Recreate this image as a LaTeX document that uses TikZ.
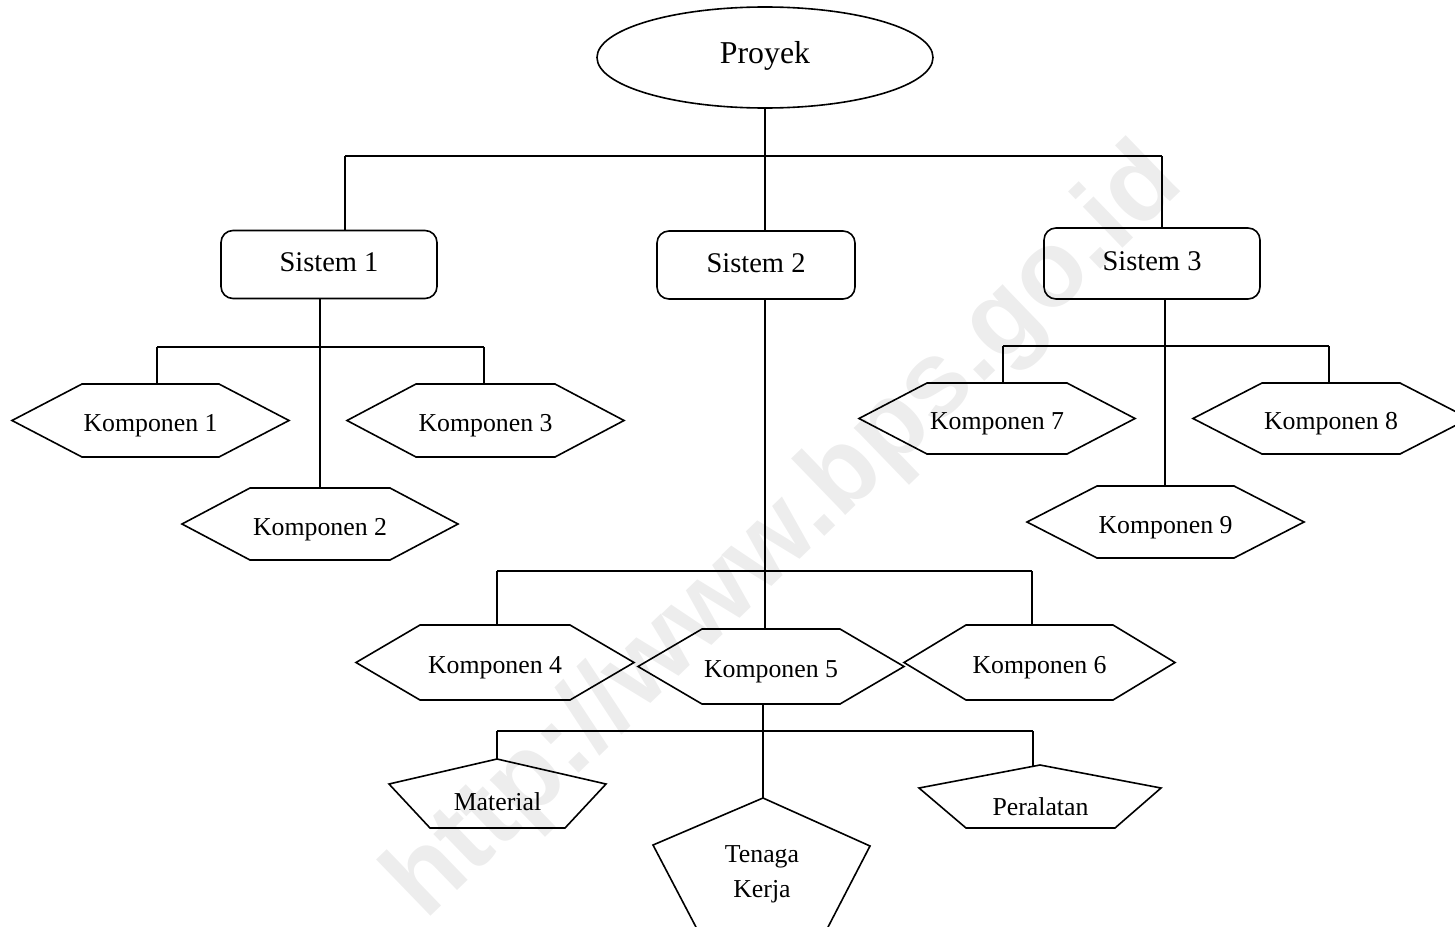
\documentclass[tikz,border=0pt]{standalone}
\usepackage{fontspec}
\setmainfont{Liberation Serif}
\newfontfamily\markfont{Liberation Sans}
\usetikzlibrary{shapes.geometric}
\definecolor{markgray}{RGB}{237,237,237}

\tikzset{
  conn/.style={line width=1.6pt},
  outline/.style={draw, line width=1.6pt, line join=miter},
  sysbox/.style={draw, line width=1.6pt, rounded corners=12pt, inner sep=0pt,
    text height=14pt, text depth=0pt, font=\fontsize{28.5}{34}\selectfont},
  lbl/.style={inner sep=0pt, anchor=base, font=\fontsize{25.8}{35}\selectfont},
}

% hexagon: name, centre x, centre y, half width, half height, slant, text
\newcommand{\hexfig}[7]{%
  \draw[outline] (#2-#4,#3) -- (#2-#4+#6,#3-#5) -- (#2+#4-#6,#3-#5) -- (#2+#4,#3)
     -- (#2+#4-#6,#3+#5) -- (#2-#4+#6,#3+#5) -- cycle;
  \coordinate (#1-top) at (#2,#3-#5);
  \coordinate (#1-bot) at (#2,#3+#5);
  \node[lbl] (#1) at (#2,#3+11) {#7};
}

\begin{document}
\begin{tikzpicture}[x=1pt,y=-1pt]
\clip (0,0) rectangle (1455,926);

% background mark
\node[anchor=base west, rotate=44, inner sep=0pt, text=markgray,
  font=\markfont\bfseries\fontsize{108}{120}\selectfont] (mark) at (425,922) {http://www.bps.go.id};

% top level
\node[draw, ellipse, line width=1.6pt, minimum width=336pt, minimum height=101pt,
  inner sep=0pt, text height=11.6pt, text depth=0pt,
  font=\fontsize{31.8}{38}\selectfont] (proyek) at (765,57.5) {Proyek};

% systems
\node[sysbox, minimum width=216pt, minimum height=68pt] (s1) at (329,264.5) {Sistem 1};
\node[sysbox, minimum width=198pt, minimum height=68pt] (s2) at (756,265) {Sistem 2};
\node[sysbox, minimum width=216pt, minimum height=71pt] (s3) at (1152,263.5) {Sistem 3};

% components
\hexfig{k1}{150.5}{420.5}{138.5}{36.5}{70}{Komponen 1}
\hexfig{k2}{320}{524}{138}{36}{68}{Komponen 2}
\hexfig{k3}{485.5}{420.5}{138.5}{36.5}{69}{Komponen 3}
\hexfig{k4}{495}{662.5}{139}{37.5}{64}{Komponen 4}
\hexfig{k5}{771}{666.5}{133}{37.5}{64}{Komponen 5}
\hexfig{k6}{1039.5}{662.5}{135.5}{37.5}{62}{Komponen 6}
\hexfig{k7}{997}{418.5}{138}{35.5}{68}{Komponen 7}
\hexfig{k8}{1331}{418.5}{138}{35.5}{69}{Komponen 8}
\hexfig{k9}{1165.5}{522}{138.5}{36}{70}{Komponen 9}

% resources
\draw[outline] (497,759) -- (606,784) -- (565,828) -- (430,828) -- (389,784) -- cycle;
\coordinate (ma-top) at (497,759);
\node[lbl] (ma) at (497.5,810) {Material};

\draw[outline] (763,798) -- (870,846) -- (827,929) -- (697,929) -- (653,845) -- cycle;
\coordinate (te-top) at (763,798);
\node[lbl, anchor=center, align=center] (te) at (762,874.7) {Tenaga\\Kerja};

\draw[outline] (1040,765) -- (1161,788) -- (1115,828) -- (966,828) -- (919,788) -- cycle;
\coordinate (pe-in) at (1033,766);
\node[lbl] (pe) at (1040.5,815) {Peralatan};

% bar coordinates
\coordinate (b0l) at (345,156);
\coordinate (b0m) at (765,156);
\coordinate (b0r) at (1162,156);
\coordinate (b1l) at (157,347);
\coordinate (b1m) at (320,347);
\coordinate (b1r) at (484,347);
\coordinate (b3l) at (1003,346);
\coordinate (b3m) at (1165,346);
\coordinate (b3r) at (1329,346);
\coordinate (b2l) at (497,571);
\coordinate (b2m) at (765,571);
\coordinate (b2r) at (1032,571);
\coordinate (b4l) at (497,731);
\coordinate (b4m) at (763,731);
\coordinate (b4r) at (1033,731);

% project to systems
\draw[conn] (proyek.south) -- (b0m);
\draw[conn] (b0l) -- (b0r);
\draw[conn] (b0l) -- (b0l |- s1.north);
\draw[conn] (b0m) -- (b0m |- s2.north);
\draw[conn] (b0r) -- (b0r |- s3.north);

% system 1
\draw[conn] (b1m |- s1.south) -- (b1m |- k2-top);
\draw[conn] (b1l) -- (b1r);
\draw[conn] (b1l) -- (b1l |- k1-top);
\draw[conn] (b1r) -- (b1r |- k3-top);

% system 3
\draw[conn] (b3m |- s3.south) -- (b3m |- k9-top);
\draw[conn] (b3l) -- (b3r);
\draw[conn] (b3l) -- (b3l |- k7-top);
\draw[conn] (b3r) -- (b3r |- k8-top);

% system 2
\draw[conn] (b2m |- s2.south) -- (b2m |- k5-top);
\draw[conn] (b2l) -- (b2r);
\draw[conn] (b2l) -- (b2l |- k4-top);
\draw[conn] (b2r) -- (b2r |- k6-top);

% component 5
\draw[conn] (b4m |- k5-bot) -- (te-top);
\draw[conn] (b4l) -- (b4r);
\draw[conn] (b4l) -- (ma-top);
\draw[conn] (b4r) -- (pe-in);
\end{tikzpicture}
\end{document}
